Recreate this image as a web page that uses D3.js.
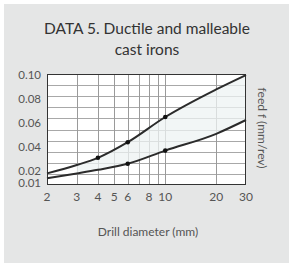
<!DOCTYPE html>
<html>
<head>
<meta charset="utf-8">
<script src="https://cdn.jsdelivr.net/npm/d3@7"></script>
<style>
  html, body { margin: 0; padding: 0; background: #fff; }
  #chart { width: 294px; height: 270px; }
</style>
</head>
<body>
<div id="chart"></div>
<script>
// drill diameter (mm) vs feed f (mm/rev)
const diameters = [2, 3, 4, 6, 10, 20, 30];
const feedUpper = [0.018, 0.025, 0.031, 0.044, 0.065, 0.088, 0.100];
const feedLower = [0.014, 0.018, 0.021, 0.026, 0.037, 0.051, 0.0625];
const upperDots = [4, 6, 10];
const lowerDots = [6, 10];
const xTicks = [2, 3, 4, 5, 6, 8, 10, 20, 30];
const xGrid = [3, 4, 5, 6, 7, 8, 9, 10, 20];
const yTicks = [0.01, 0.02, 0.04, 0.06, 0.08, 0.10];

const width = 294;
const height = 270;
const font = "Lato, 'Noto Sans', sans-serif";

const svg = d3.select('#chart')
  .append('svg')
  .attr('width', width)
  .attr('height', height);

// card
svg.append('rect')
  .attr('x', 4).attr('y', 4)
  .attr('width', 285).attr('height', 259)
  .attr('fill', '#e5e6e6');

svg.append('text')
  .attr('x', 147).attr('y', 34)
  .attr('text-anchor', 'middle')
  .attr('font-family', font)
  .attr('font-size', 15.5)
  .attr('fill', '#333')
  .text('DATA 5. Ductile and malleable');

svg.append('text')
  .attr('x', 147).attr('y', 55)
  .attr('text-anchor', 'middle')
  .attr('font-family', font)
  .attr('font-size', 15.5)
  .attr('fill', '#333')
  .text('cast irons');

const x = d3.scaleLog().domain([2, 30]).range([47, 246]);
const y = d3.scaleLinear().domain([0.01, 0.10]).range([183, 75]);
const plotTop = 74;
const plotBottom = 185;

svg.append('rect')
  .attr('x', x(2)).attr('y', plotTop)
  .attr('width', x(30) - x(2)).attr('height', plotBottom - plotTop)
  .attr('fill', '#fff');

// horizontal grid: 10 equal bands
const hGrid = d3.range(1, 10).map(i => plotTop + (plotBottom - plotTop) * i / 10);
svg.append('g')
  .selectAll('line')
  .data(hGrid)
  .join('line')
  .attr('x1', x(2)).attr('x2', x(30))
  .attr('y1', d => Math.round(d) + 0.5).attr('y2', d => Math.round(d) + 0.5)
  .attr('stroke', '#a8a8a8')
  .attr('stroke-width', 1);

svg.append('g')
  .selectAll('line')
  .data(xGrid)
  .join('line')
  .attr('x1', d => Math.round(x(d)) + 0.5).attr('x2', d => Math.round(x(d)) + 0.5)
  .attr('y1', plotTop).attr('y2', plotBottom)
  .attr('stroke', '#9a9a9a')
  .attr('stroke-width', 1);

// band between the two curves
const bandData = diameters.map((d, i) => ({ d, lo: feedLower[i], hi: feedUpper[i] }));
const area = d3.area()
  .x(p => x(p.d))
  .y0(p => y(p.lo))
  .y1(p => y(p.hi))
  .curve(d3.curveMonotoneX);

svg.append('path')
  .datum(bandData.filter(p => p.d >= 3))
  .attr('d', area)
  .attr('fill', '#eef3f3')
  .attr('fill-opacity', 0.75);

svg.append('rect')
  .attr('x', x(2) + 0.5).attr('y', plotTop + 0.5)
  .attr('width', x(30) - x(2) - 1).attr('height', plotBottom - plotTop - 1)
  .attr('fill', 'none')
  .attr('stroke', '#333')
  .attr('stroke-width', 1);

const line = d3.line()
  .x(p => x(p[0]))
  .y(p => y(p[1]))
  .curve(d3.curveMonotoneX);

[feedUpper, feedLower].forEach(series => {
  svg.append('path')
    .datum(diameters.map((d, i) => [d, series[i]]))
    .attr('d', line)
    .attr('fill', 'none')
    .attr('stroke', '#2b2b2b')
    .attr('stroke-width', 2);
});

const upperAt = d => feedUpper[diameters.indexOf(d)];
const lowerAt = d => feedLower[diameters.indexOf(d)];
const dots = upperDots.map(d => [d, upperAt(d)]).concat(lowerDots.map(d => [d, lowerAt(d)]));

svg.append('g')
  .selectAll('circle')
  .data(dots)
  .join('circle')
  .attr('cx', p => x(p[0]))
  .attr('cy', p => y(p[1]))
  .attr('r', 2.3)
  .attr('fill', '#111');

// axes labels
svg.append('g')
  .selectAll('text')
  .data(yTicks)
  .join('text')
  .attr('x', 41)
  .attr('y', d => y(d) + 4)
  .attr('text-anchor', 'end')
  .attr('font-family', font)
  .attr('font-size', 11.5)
  .attr('fill', '#555')
  .text(d => d3.format('.2f')(d));

svg.append('g')
  .selectAll('text')
  .data(xTicks)
  .join('text')
  .attr('x', d => x(d))
  .attr('y', 201)
  .attr('text-anchor', 'middle')
  .attr('font-family', font)
  .attr('font-size', 12)
  .attr('fill', '#555')
  .text(d => d);

svg.append('text')
  .attr('x', 148).attr('y', 236)
  .attr('text-anchor', 'middle')
  .attr('font-family', font)
  .attr('font-size', 12)
  .attr('fill', '#555')
  .text('Drill diameter (mm)');

svg.append('text')
  .attr('transform', 'translate(258, 128) rotate(90)')
  .attr('text-anchor', 'middle')
  .attr('font-family', font)
  .attr('font-size', 12)
  .attr('fill', '#555')
  .text('feed f (mm/rev)');
</script>
</body>
</html>
